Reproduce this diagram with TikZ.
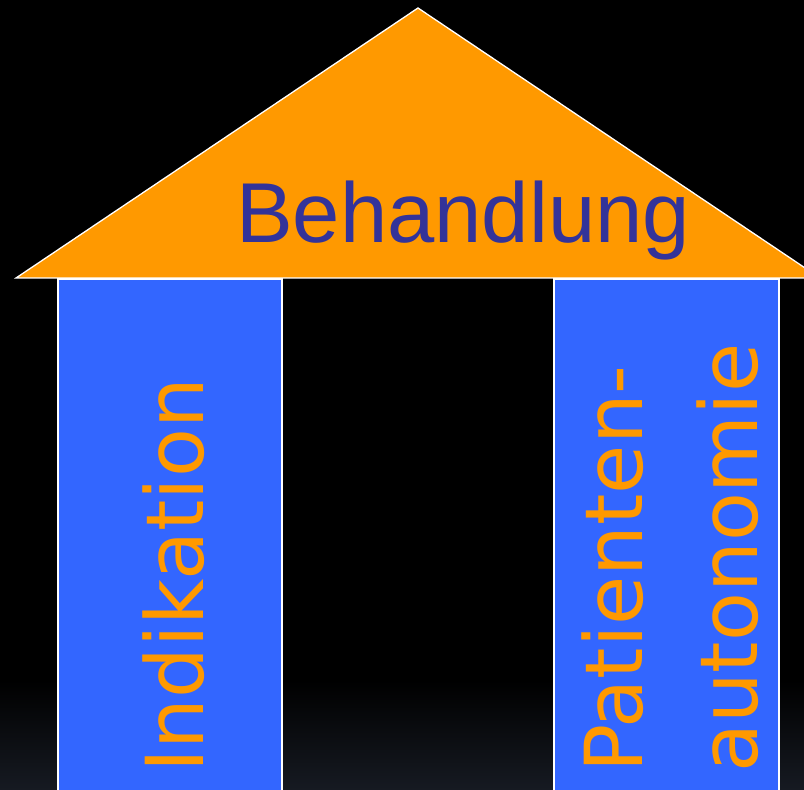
\documentclass[tikz,border=0pt]{standalone}
\usepackage{fontspec}
\setmainfont{Liberation Sans}
\newfontfamily\colfont{DejaVu Sans}
\definecolor{roofor}{RGB}{255,153,0}
\definecolor{colblue}{RGB}{51,102,255}
\definecolor{titleblue}{RGB}{51,51,153}
\definecolor{bgbottom}{RGB}{22,26,34}
\tikzset{
  pillar/.style={fill=colblue, draw=white, line width=1.3pt},
  rooftop/.style={fill=roofor, draw=white, line width=1.3pt, line join=miter},
  coltext/.style={text=roofor, font=\colfont\fontsize{80}{96}\selectfont, inner sep=0pt, rotate=90, anchor=base west},
  titletext/.style={text=titleblue, font=\fontsize{85}{100}\selectfont, inner sep=0pt, anchor=base west}
}
\begin{document}
\begin{tikzpicture}[x=1pt,y=1pt]
\useasboundingbox (0,0) rectangle (804,790);
% background
\fill[black] (0,0) rectangle (804,790);
\shade[top color=black, bottom color=bgbottom] (0,0) rectangle (804,110);
% roof
\draw[rooftop] (16,512) -- (418,782) -- (820,512) -- cycle;
% pillars
\draw[pillar] (58,-5) rectangle (282,511);
\draw[pillar] (554,-5) rectangle (779,511);
% texts
\node[titletext] (title) at (236,547) {Behandlung};
\node[coltext] (ind) at (203,17) {Indikation};
\node[coltext] (pat1) at (642,17) {Patienten-};
\node[coltext] (pat2) at (757,17) {autonomie};
\end{tikzpicture}
\end{document}
